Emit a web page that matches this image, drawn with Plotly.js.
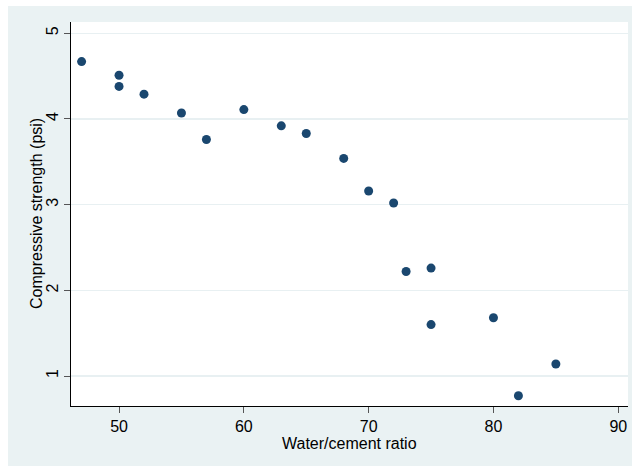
<!DOCTYPE html>
<html>
<head>
<meta charset="utf-8">
<script src="https://cdn.plot.ly/plotly-3.0.1.min.js"></script>
<style>
  html, body { margin: 0; padding: 0; background: #ffffff; }
  #chart { position: absolute; left: 8px; top: 6px; width: 624px; height: 460px; }
</style>
</head>
<body>
<div id="chart"></div>
<script>
// Water/cement ratio against compressive strength
const waterCementRatio = [47, 50, 50, 52, 55, 57, 60, 63, 65, 68, 70, 72, 73, 75, 75, 80, 82, 85];
const compressiveStrength = [4.67, 4.51, 4.38, 4.29, 4.07, 3.76, 4.11, 3.92, 3.83, 3.54, 3.16, 3.02, 2.22, 2.26, 1.60, 1.68, 0.77, 1.14];

const xTicks = [50, 60, 70, 80, 90];
const yTicks = [1, 2, 3, 4, 5];

const xTitle = 'Water/cement ratio';
const yTitle = 'Compressive strength (psi)';

const font = { family: 'Liberation Sans, Arial, sans-serif', size: 16, color: '#000000' };

const trace = {
  type: 'scatter',
  mode: 'markers',
  x: waterCementRatio,
  y: compressiveStrength,
  marker: { size: 9, color: '#1a476f', line: { width: 0 } },
  hoverinfo: 'x+y'
};

const layout = {
  width: 624,
  height: 460,
  margin: { l: 63, r: 4, t: 16, b: 60 },
  paper_bgcolor: '#eaf2f3',
  plot_bgcolor: '#ffffff',
  showlegend: false,
  font: font,
  xaxis: {
    range: [46.15, 90.78],
    tickvals: xTicks,
    ticktext: xTicks.map(String),
    ticks: 'outside',
    ticklen: 6,
    tickwidth: 1,
    tickcolor: '#555555',
    showline: true,
    linecolor: '#000000',
    linewidth: 1,
    showgrid: false,
    zeroline: false,
    tickfont: font
  },
  yaxis: {
    range: [0.65, 5.132],
    tickvals: yTicks,
    ticktext: yTicks.map(String),
    tickangle: -90,
    ticks: 'outside',
    ticklen: 6,
    tickwidth: 1,
    tickcolor: '#555555',
    showline: true,
    linecolor: '#000000',
    linewidth: 1,
    showgrid: true,
    gridcolor: '#e8f0f2',
    gridwidth: 1.5,
    zeroline: false,
    tickfont: font
  },
  annotations: [
    {
      text: xTitle, xref: 'paper', yref: 'paper', x: 0.5, y: 0,
      xanchor: 'center', yanchor: 'middle', yshift: -37,
      showarrow: false, font: font
    },
    {
      text: yTitle, xref: 'paper', yref: 'paper', x: 0, y: 0.5,
      xanchor: 'center', yanchor: 'middle', xshift: -35, textangle: -90,
      showarrow: false, font: font
    }
  ]
};

Plotly.newPlot('chart', [trace], layout, { displayModeBar: false, staticPlot: true });
</script>
</body>
</html>
